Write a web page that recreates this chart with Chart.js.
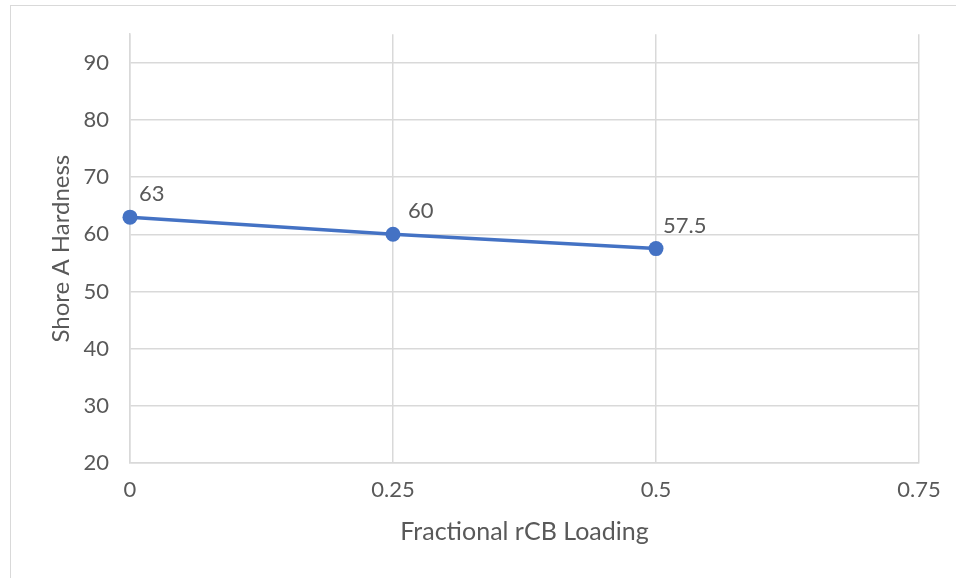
<!DOCTYPE html>
<html>
<head>
<meta charset="utf-8">
<script src="https://cdn.jsdelivr.net/npm/chart.js@4/dist/chart.umd.min.js"></script>
<style>
  html, body { margin: 0; padding: 0; background: #fff; overflow: hidden; }
  #wrap { position: relative; width: 956px; height: 578px; }
  #frame { position: absolute; left: 10px; top: 5px; width: 1200px; height: 1200px;
           border: 1.5px solid #d9d9d9; box-sizing: border-box; }
  canvas { position: absolute; left: 0; top: 0; }
</style>
</head>
<body>
<div id="wrap">
  <div id="frame"></div>
  <canvas id="c" width="956" height="578"></canvas>
</div>
<script>
// Fractional rCB loading vs. measured Shore A hardness
const loadings = [0, 0.25, 0.5];
const hardness = [63, 60, 57.5];
const xTicks = [0, 0.25, 0.5, 0.75];
const yTicks = [20, 30, 40, 50, 60, 70, 80, 90];

const TEXT = '#595959';
const GRID = '#d9d9d9';
const FONT = 'Lato';

// Writes each point's value just above and to the right of the marker
const valueLabels = {
  id: 'valueLabels',
  afterDatasetsDraw(chart, args, opts) {
    const ctx = chart.ctx;
    const meta = chart.getDatasetMeta(0);
    const ds = chart.data.datasets[0];
    ctx.save();
    ctx.font = opts.size + 'px ' + FONT;
    ctx.fillStyle = TEXT;
    ctx.textAlign = 'left';
    ctx.textBaseline = 'middle';
    meta.data.forEach((pt, i) => {
      const v = ds.data[i].y;
      ctx.fillText(String(v), pt.x + opts.dx[i], pt.y + opts.dy);
    });
    ctx.restore();
  }
};

new Chart(document.getElementById('c'), {
  type: 'line',
  data: {
    datasets: [{
      data: loadings.map((x, i) => ({ x, y: hardness[i] })),
      borderColor: '#4472C4',
      backgroundColor: '#4472C4',
      borderWidth: 3.5,
      pointRadius: 7.5,
      pointHoverRadius: 7.5,
      pointBorderWidth: 0,
      tension: 0,
      fill: false,
      clip: false
    }]
  },
  options: {
    responsive: false,
    animation: false,
    layout: { padding: { left: 38, top: 34, right: 37, bottom: 0 } },
    plugins: {
      legend: { display: false },
      tooltip: { enabled: false },
      valueLabels: { size: 22, dx: [9, 15, 7], dy: -23 }
    },
    scales: {
      x: {
        type: 'linear',
        min: 0, max: 0.75,
        afterBuildTicks: s => { s.ticks = xTicks.map(v => ({ value: v })); },
        afterFit: s => { s.height = 115; },
        ticks: {
          color: TEXT, font: { family: FONT, size: 22 }, padding: 14, maxRotation: 0,
          callback: v => String(v)
        },
        grid: { color: GRID, lineWidth: 1.5, drawTicks: false },
        border: { color: GRID, width: 1.5 },
        title: {
          display: true, text: 'Fractional rCB Loading', color: TEXT,
          font: { family: FONT, size: 25 }, padding: { top: 0, bottom: 31 }
        }
      },
      y: {
        type: 'linear',
        min: 20, max: 95,
        afterBuildTicks: s => { s.ticks = yTicks.map(v => ({ value: v })); },
        afterFit: s => { s.width = 130 - 38; },
        ticks: {
          color: TEXT, font: { family: FONT, size: 22 }, padding: 21,
          callback: v => String(v)
        },
        grid: { color: GRID, lineWidth: 1.5, drawTicks: false },
        border: { color: GRID, width: 1.5 },
        title: {
          display: true, text: 'Shore A Hardness', color: TEXT,
          font: { family: FONT, size: 24 }, padding: { top: 9, bottom: 0 }
        }
      }
    }
  },
  plugins: [valueLabels]
});
</script>
</body>
</html>
